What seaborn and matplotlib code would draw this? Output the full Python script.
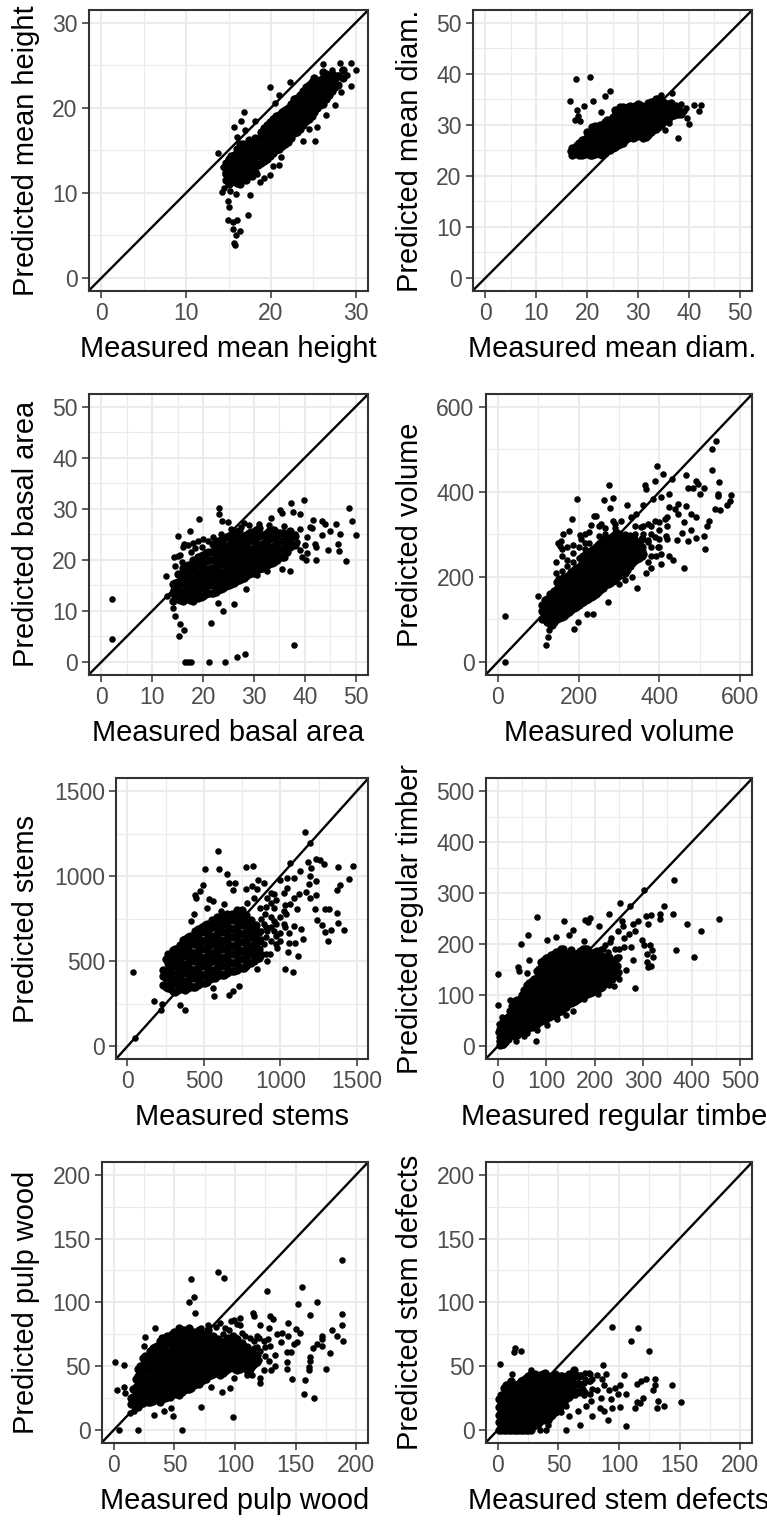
import matplotlib
matplotlib.use("Agg")
import matplotlib.pyplot as plt
import matplotlib.ticker as mtick
import pandas as pd
import seaborn as sns

# values: dense clouds as {measured: [predicted, ...]}, stray points as pairs
height_cloud = {
    15: [11, 12, 13, 14], 15.7: [11.5, 12.5, 13.5, 14.5], 16.4: [11, 12, 13, 14, 15, 15.7],
    17.1: [11.5, 12.5, 13.5, 14.5, 15.5], 17.8: [12, 13, 14, 15, 16], 18.5: [13.3, 14.3, 15.3, 16.3],
    19.2: [13.8, 14.8, 15.8, 16.8, 17.6], 19.9: [14.3, 15.3, 16.3, 17.3, 18.3], 20.6: [15, 16, 17, 18, 19],
    21.3: [15.5, 16.5, 17.5, 18.5, 19.5], 22: [16, 17, 18, 19, 20], 22.7: [17, 18, 19, 20, 21],
    23.4: [17.5, 18.5, 19.5, 20.5, 21.5], 24.1: [18.5, 19.5, 20.5, 21.5, 22.5], 24.8: [19, 20, 21, 22, 23],
    25.5: [20, 21, 22, 23], 26.2: [20.5, 21.5, 22.5, 23.5, 24.2], 26.9: [21.5, 22.5, 23.5], 27.6: [22.5, 23.5],
}
height_fill = {
    14.7: [11.5, 12.5, 13.5], 15.35: [11.3, 12.3, 13.3, 14.3], 16.05: [11.2, 12.2, 13.2, 14.2, 15.2],
    16.75: [11.7, 12.7, 13.7, 14.7, 15.7], 17.45: [12.2, 13.2, 14.2, 15.2, 16.2], 18.15: [12.5, 13.5, 14.5, 15.5, 16.5],
    18.85: [13.5, 14.5, 15.5, 16.5, 17.2], 19.55: [14, 15, 16, 17, 18], 20.25: [14.7, 15.7, 16.7, 17.7, 18.7],
    20.95: [15.2, 16.2, 17.2, 18.2, 19.2], 21.65: [15.7, 16.7, 17.7, 18.7, 19.7], 22.35: [16.5, 17.5, 18.5, 19.5, 20.5],
    23.05: [17.2, 18.2, 19.2, 20.2, 21.2], 23.75: [18, 19, 20, 21, 22], 24.45: [18.7, 19.7, 20.7, 21.7, 22.7],
    25.15: [19.5, 20.5, 21.5, 22.5, 23.5], 25.85: [20.3, 21.3, 22.3, 23.3], 26.55: [21, 22, 23, 24],
    27.25: [22, 23, 24], 27.95: [22.7, 23.7], 28.5: [23.5, 24.5],
}
height_stray = [(13.8, 14.7), (16.8, 19.5), (16.5, 18.5), (15.6, 17.7), (16, 16.6), (18.1, 18.4), (17, 17.4),
                (19.9, 22.4), (21, 21.5), (22.3, 23), (20.5, 20.6), (14.4, 13), (14.6, 12.2), (14.2, 10.1),
                (14.5, 10.6), (15.2, 10.2), (15.9, 9.9), (14.9, 9.1), (15, 8.3), (17.5, 9.7), (17.3, 7.4),
                (14.9, 6.8), (16, 6.8), (15.5, 6.6), (15.5, 5.7), (16.4, 5.5), (15.9, 5), (15.6, 4.1), (15.8, 3.9),
                (18.7, 11.3), (19.2, 11.8), (19.9, 12.1), (21, 13.3), (20.3, 13.2), (21.2, 14.2), (23.8, 16.1),
                (25.2, 16.1), (25.5, 17.8), (26.5, 19.2), (27.6, 20.3), (28.3, 21.9), (29.5, 22.6), (30, 24.4),
                (29.4, 25.3), (28.2, 25.3), (26.2, 25.2), (29, 23.8), (28.4, 24.5), (27.2, 24.5), (27.8, 23.8),
                (18, 12.6), (18.4, 12.2), (24.5, 17.5)]

diam_cloud = {
    17: [24, 25.5], 18: [24.5, 26], 19: [24, 25.5, 27], 20: [24.5, 26, 27.5, 28.5], 21: [24, 25.5, 27, 28.5, 29.5],
    22: [24.5, 26, 27.5, 29], 23: [24, 25.5, 27, 28.5, 30], 24: [25, 26.5, 28, 29.5, 31],
    25: [25.5, 27, 28.5, 30, 31.5], 26: [26, 27.5, 29, 30.5, 32, 33], 27: [26.5, 28, 29.5, 31, 32.5, 33.5],
    28: [27.5, 29, 30.5, 32, 33.5], 29: [27.5, 29, 30.5, 32, 33.5], 30: [28, 29.5, 31, 32.5, 34],
    31: [27.5, 29, 30.5, 32, 33.5], 32: [28, 29.5, 31, 32.5, 34.3], 33: [29, 30.5, 32, 33.5, 34.5],
    34: [29.5, 31, 32.5, 34, 35], 35: [30.5, 32, 33.5, 34.5], 36: [31, 32.5, 34], 37: [32, 33.5], 38: [33],
}
diam_fill = {
    17.5: [24.3, 25.5], 18.5: [24, 25.2, 26.4], 19.5: [24.2, 25.7, 27.2], 20.5: [24, 25.5, 27, 28.2],
    21.5: [24.2, 25.7, 27.2, 28.7, 29.7], 22.5: [24.2, 25.7, 27.2, 28.7, 30], 23.5: [24.5, 26, 27.5, 29, 30.5],
    24.5: [25, 26.5, 28, 29.5, 31], 25.5: [25.7, 27.2, 28.7, 30.2, 31.7, 33], 26.5: [26.2, 27.7, 29.2, 30.7, 32.2, 33.5],
    27.5: [27, 28.5, 30, 31.5, 33], 28.5: [27.7, 29.2, 30.7, 32.2, 33.7], 29.5: [27.7, 29.2, 30.7, 32.2, 33.7],
    30.5: [27.8, 29.3, 30.8, 32.3, 33.8], 31.5: [27.7, 29.2, 30.7, 32.2, 33.7], 32.5: [28.5, 30, 31.5, 33, 34.5],
    33.5: [29.2, 30.7, 32.2, 33.7, 35], 34.5: [30, 31.5, 33, 34.5], 35.5: [31, 32.5, 34], 36.5: [31.7, 33.2, 34.3],
    37.5: [32.5, 33.7], 38.4: [32.2],
}
diam_stray = [(17.9, 38.9), (20.5, 39.3), (16.6, 34.7), (19.4, 33.7), (21.2, 34.6), (23.5, 35.7), (24.6, 36.6),
              (22.8, 32.5), (18, 32.9), (18.2, 31.8), (17.7, 31), (18.7, 30.8), (37.9, 27.5), (35.3, 28.9),
              (40.1, 30.1), (39.6, 31.3), (42.4, 33.9), (42.1, 32.7), (41, 33.8), (39.5, 33.3), (37.8, 32),
              (36.8, 36.3), (34.5, 35.8), (39.1, 32.7), (38.5, 34), (36.2, 30.3), (16.6, 24.8)]

basal_cloud = {
    14: [12, 13.6, 15.2], 15: [12.5, 14.1, 15.7, 17.3], 16: [12, 13.6, 15.2, 16.8, 18.4],
    17: [12.5, 14.1, 15.7, 17.3, 18.9], 18: [12, 13.6, 15.2, 16.8, 18.4, 20],
    19: [12.5, 14.1, 15.7, 17.3, 18.9, 20.5], 20: [13, 14.6, 16.2, 17.8, 19.4, 21],
    21: [13.5, 15.1, 16.7, 18.3, 19.9, 21.5], 22: [13.5, 15.1, 16.7, 18.3, 19.9, 21.5, 23.1],
    23: [14, 15.6, 17.2, 18.8, 20.4, 22, 23.6], 24: [14.5, 16.1, 17.7, 19.3, 20.9, 22.5, 24.1],
    25: [15, 16.6, 18.2, 19.8, 21.4, 23, 24.6], 26: [15.5, 17.1, 18.7, 20.3, 21.9, 23.5, 25.2],
    27: [16, 17.6, 19.2, 20.8, 22.4, 24, 25.6], 28: [16.5, 18.1, 19.7, 21.3, 22.9, 24.5],
    29: [17.2, 18.8, 20.4, 22, 23.6, 25.2], 30: [17.5, 19.1, 20.7, 22.3, 23.9, 25.5],
    31: [18.2, 19.8, 21.4, 23, 24.6, 26.2], 32: [18.5, 20.1, 21.7, 23.3, 24.9],
    33: [19.2, 20.8, 22.4, 24, 25.6], 34: [19.5, 21.1, 22.7, 24.3, 25.9], 35: [20.5, 22.1, 23.7, 25.3],
    36: [20.5, 22.1, 23.7, 25.3], 37: [22.5, 24.1, 25.7], 38: [23, 24.6],
}
basal_fill = {
    14.5: [12.4, 14, 15.5], 15.5: [12.2, 13.8, 15.4, 17], 16.5: [12.3, 13.9, 15.5, 17.1, 18.7],
    17.5: [12.2, 13.8, 15.4, 17, 18.6], 18.5: [12.8, 14.4, 16, 17.6, 19.2],
    19.5: [12.8, 14.4, 16, 17.6, 19.2, 20.8], 20.5: [13.3, 14.9, 16.5, 18.1, 19.7, 21.3],
    21.5: [13.6, 15.2, 16.8, 18.4, 20, 21.6], 22.5: [13.8, 15.4, 17, 18.6, 20.2, 21.8, 23.4],
    23.5: [14.3, 15.9, 17.5, 19.1, 20.7, 22.3, 23.9], 24.5: [14.8, 16.4, 18, 19.6, 21.2, 22.8, 24.4],
    25.5: [15.3, 16.9, 18.5, 20.1, 21.7, 23.3, 24.9], 26.5: [15.8, 17.4, 19, 20.6, 22.2, 23.8, 25.4],
    27.5: [16.3, 17.9, 19.5, 21.1, 22.7, 24.3], 28.5: [16.9, 18.5, 20.1, 21.7, 23.3, 24.9],
    29.5: [17.4, 19, 20.6, 22.2, 23.8, 25.4], 30.5: [17.9, 19.5, 21.1, 22.7, 24.3, 25.9],
    31.5: [18.4, 20, 21.6, 23.2, 24.8], 32.5: [18.9, 20.5, 22.1, 23.7, 25.3],
    33.5: [19.4, 21, 22.6, 24.2, 25.8], 34.5: [20, 21.6, 23.2, 24.8], 35.5: [20.5, 22.1, 23.7, 25.3],
    36.5: [21.5, 23.1, 24.7], 37.5: [23, 24.6],
}
basal_stray = [(2, 12.4), (2, 4.5), (16.4, 0), (17, 0), (17.6, 0), (21.2, 0), (24.4, 0), (26.6, 1), (28.2, 1.6),
               (37.9, 3.4), (21.6, 7.6), (15.3, 5.1), (16.2, 6.3), (15.4, 7.4), (14.4, 9), (14, 10.5), (23.9, 10),
               (26.1, 11.3), (28.5, 14.2), (23, 11.6), (12.8, 16.9), (15, 24.7), (17.5, 25.6), (19.2, 28.1),
               (23.1, 30.2), (23.2, 29), (23.7, 27.7), (24.9, 27.5), (39.9, 31.8), (37.2, 31.2), (37.7, 29.3),
               (39.1, 29), (35.1, 29.7), (35.6, 29.2), (33.4, 28.2), (28, 27.2), (48.8, 30.1), (49.3, 27.6),
               (50, 24.8), (48.2, 19.7), (46.7, 21.7), (46.6, 23.2), (47, 25.1), (46.1, 27), (44.5, 22), (42.3, 19.9),
               (40.2, 19.9), (40.4, 21.3), (37, 17.8), (43.3, 24.9), (42.1, 23.2), (41.7, 27.9), (43.4, 27.6),
               (45, 25.7), (44, 27.1), (41.5, 26.2), (40.4, 24.5), (39.4, 20.6), (38.1, 25), (35.5, 18.3),
               (32.6, 17.8), (30.6, 17), (13, 13), (41, 26.5), (39, 26), (42.2, 22.5), (40, 23), (14, 14), (15.5, 21),
               (16, 22.6), (17, 23), (18, 23.4), (20, 24), (22, 24.5), (19, 23.7), (39, 22), (38.5, 23.5),
               (14.5, 18.8), (14.2, 20.5), (15, 20.7), (15.8, 19.5), (16.2, 23.2), (17.6, 21.5), (18.4, 22.3),
               (19.7, 22.6), (21, 23.6), (23.5, 25), (25.5, 26), (27.5, 26.5), (29, 26.8), (31, 27.1), (33, 26.8), (36, 26.6)]

volume_cloud = {
    110: [102, 120, 135], 122: [95, 113, 131, 149], 134: [88, 106, 124, 142, 160], 146: [100, 118, 136, 154, 172, 188],
    158: [106, 124, 142, 160, 178, 196], 170: [112, 130, 148, 166, 184, 200], 182: [122, 140, 158, 176, 194, 212],
    194: [130, 148, 166, 184, 202, 222], 206: [138, 156, 174, 192, 210, 228, 245], 218: [146, 164, 182, 200, 218, 236, 254],
    230: [152, 170, 188, 206, 224, 242, 262], 242: [160, 178, 196, 214, 232, 250, 270],
    254: [168, 186, 204, 222, 240, 258, 280], 266: [180, 198, 216, 234, 252, 270, 288],
    278: [186, 204, 222, 240, 258, 276, 292], 290: [196, 214, 232, 250, 268, 286, 300],
    302: [204, 222, 240, 258, 276, 294], 314: [208, 226, 244, 262, 280, 298], 326: [226, 244, 262, 280, 296],
    338: [238, 256, 274, 290], 350: [244, 262, 280],
}
volume_fill = {
    116: [100, 115, 130, 145], 128: [90, 108, 126, 144, 160], 140: [94, 112, 130, 148, 166],
    152: [103, 121, 139, 157, 175, 195], 164: [109, 127, 145, 163, 181, 200], 176: [117, 135, 153, 171, 189, 205],
    188: [126, 144, 162, 180, 198, 216], 200: [134, 152, 170, 188, 206, 224], 212: [142, 160, 178, 196, 214, 232, 250],
    224: [149, 167, 185, 203, 221, 239, 258], 236: [156, 174, 192, 210, 228, 246, 266],
    248: [164, 182, 200, 218, 236, 254, 275], 260: [174, 192, 210, 228, 246, 264, 284],
    272: [183, 201, 219, 237, 255, 273, 290], 284: [191, 209, 227, 245, 263, 281, 296],
    296: [200, 218, 236, 254, 272, 290, 304], 308: [206, 224, 242, 260, 278, 296], 320: [217, 235, 253, 271, 289],
    332: [232, 250, 268, 286], 344: [241, 259, 277], 356: [250, 270, 288],
}
volume_stray = [(17, 108), (17, 0), (120, 40), (123, 59), (126, 76), (189, 78), (199, 93), (99, 154), (195, 383),
                (183, 336), (175, 308), (161, 300), (156, 284), (149, 280), (153, 272), (203, 298), (205, 289),
                (275, 417), (263, 381), (286, 386), (278, 363), (239, 344), (244, 344), (231, 323), (394, 460),
                (408, 441), (389, 426), (364, 415), (368, 406), (430, 431), (424, 396), (467, 439), (383, 382),
                (403, 387), (540, 520), (530, 501), (529, 452), (548, 423), (546, 395), (546, 389), (577, 392),
                (574, 379), (567, 370), (537, 360), (549, 358), (491, 426), (496, 418), (483, 410), (510, 410),
                (500, 395), (472, 409), (467, 366), (446, 371), (479, 348), (491, 340), (522, 331), (518, 319),
                (510, 296), (512, 265), (491, 291), (471, 284), (479, 311), (462, 328), (456, 303), (444, 286),
                (462, 222), (434, 239), (425, 250), (403, 230), (380, 222), (368, 209), (345, 175), (332, 200),
                (315, 192), (301, 183), (273, 142), (235, 112), (220, 112), (417, 297), (404, 254), (446, 348),
                (425, 364), (438, 360), (413, 336), (389, 332), (371, 325), (355, 317), (342, 348), (330, 340),
                (320, 369), (359, 369), (305, 332), (284, 332), (255, 325), (371, 286), (388, 293), (396, 270),
                (363, 254), (346, 270), (371, 235), (145, 210), (145, 235), (160, 215), (160, 250), (160, 265),
                (171, 225), (171, 240), (171, 270), (185, 235), (185, 255), (185, 275), (201, 245), (201, 270),
                (215, 265), (215, 280), (215, 300), (225, 280), (225, 305), (250, 295), (250, 320), (265, 300),
                (265, 315), (290, 315), (290, 325), (340, 300), (340, 320), (360, 300), (360, 320), (360, 260),
                (380, 250), (380, 270), (380, 300), (380, 320), (400, 270), (400, 290), (400, 310), (400, 330),
                (420, 290), (420, 320), (420, 340), (372, 282), (392, 248)]

stems_cloud = {
    250: [350, 400, 450, 510], 282: [335, 385, 435, 485, 535], 314: [320, 370, 420, 470, 520, 570],
    346: [345, 395, 445, 495, 545, 595], 378: [330, 380, 430, 480, 530, 580, 630], 410: [355, 405, 455, 505, 555, 605, 650],
    442: [350, 400, 450, 500, 550, 600, 650, 680], 474: [375, 425, 475, 525, 575, 625, 675],
    506: [370, 420, 470, 520, 570, 620, 670, 710], 538: [395, 445, 495, 545, 595, 645, 695],
    570: [400, 450, 500, 550, 600, 650, 700, 740], 602: [425, 475, 525, 575, 625, 675, 725],
    634: [420, 470, 520, 570, 620, 670, 720, 760], 666: [445, 495, 545, 595, 645, 695, 745],
    698: [440, 490, 540, 590, 640, 690, 740, 770], 730: [465, 515, 565, 615, 665, 715, 760],
    762: [460, 510, 560, 610, 660, 710, 750], 794: [490, 540, 590, 640, 690, 730], 826: [500, 550, 600, 650, 700],
    858: [520, 570, 620, 670],
}
stems_fill = {
    234: [360, 410, 450], 266: [340, 390, 440, 490, 540], 298: [325, 375, 425, 475, 525, 565],
    330: [330, 380, 430, 480, 530, 580], 362: [335, 385, 435, 485, 535, 585, 625], 394: [340, 390, 440, 490, 540, 590, 640],
    426: [350, 400, 450, 500, 550, 600, 650], 458: [360, 410, 460, 510, 560, 610, 660, 690],
    490: [370, 420, 470, 520, 570, 620, 670, 700], 522: [380, 430, 480, 530, 580, 630, 680, 720],
    554: [400, 450, 500, 550, 600, 650, 700, 740], 586: [410, 460, 510, 560, 610, 660, 710, 760],
    618: [420, 470, 520, 570, 620, 670, 720, 770], 650: [430, 480, 530, 580, 630, 680, 730, 780],
    682: [440, 490, 540, 590, 640, 690, 740, 780], 714: [450, 500, 550, 600, 650, 700, 750, 800],
    746: [460, 510, 560, 610, 660, 710, 760, 800], 778: [470, 520, 570, 620, 670, 720, 770],
    810: [490, 540, 590, 640, 690, 740], 842: [510, 560, 610, 660, 710],
}
stems_stray = [(35, 435), (50, 47), (176, 268), (220, 213), (226, 248), (341, 242), (376, 211), (565, 293), (665, 303),
               (689, 322), (730, 353), (559, 340), (1033, 455), (1080, 439), (1117, 529), (1048, 555), (1093, 609),
               (1146, 633), (1137, 687), (1054, 609), (1000, 619), (1087, 707), (1109, 805), (1163, 1260), (1196, 1195),
               (593, 1146), (507, 1041), (596, 1039), (654, 1010), (778, 1051), (822, 1057), (1061, 1078), (1178, 1084),
               (1200, 1049), (1233, 1098), (1261, 1094), (1287, 1074), (1374, 1051), (1478, 1057), (1452, 984),
               (1387, 949), (1370, 916), (1130, 1033), (1196, 1000), (1235, 973), (1185, 953), (1170, 908), (1235, 889),
               (1196, 873), (1226, 805), (1293, 809), (1315, 805), (1370, 785), (1380, 727), (1417, 682), (1330, 682),
               (1293, 674), (1309, 619), (1272, 711), (1239, 742), (493, 945), (474, 912), (441, 887), (446, 869),
               (535, 863), (559, 853), (630, 838), (665, 961), (702, 957), (689, 916), (772, 922), (813, 941), (854, 980),
               (848, 922), (891, 961), (1000, 980), (1043, 990), (1087, 990), (1043, 931), (957, 893), (913, 873),
               (1022, 902), (1087, 873), (1065, 834), (1120, 893), (435, 775), (413, 736), (522, 814), (609, 795),
               (783, 844), (826, 873), (870, 814), (957, 814), (1022, 795), (957, 736), (1022, 717), (891, 717),
               (913, 678), (1000, 668), (1054, 668), (978, 580), (935, 541), (848, 453), (913, 502), (900, 780),
               (940, 760), (1000, 760), (1040, 780), (960, 680), (890, 600), (880, 540), (874, 530), (874, 630),
               (874, 680), (874, 750), (906, 540), (906, 640), (906, 700), (906, 820), (940, 620), (940, 700),
               (940, 840), (940, 900), (970, 600), (970, 650), (970, 720), (970, 860), (1030, 700), (1030, 830)]

timber_cloud = {
    5: [3, 18, 33], 15: [8, 23, 38, 52], 25: [25, 40, 55, 70], 35: [20, 35, 50, 65, 80], 45: [27, 42, 57, 72, 88],
    55: [32, 47, 62, 77, 92, 110], 65: [37, 52, 67, 82, 97, 112, 124], 75: [42, 57, 72, 87, 102, 117, 132],
    85: [47, 62, 77, 92, 107, 122, 137, 152], 95: [52, 67, 82, 97, 112, 127, 142, 157, 168],
    105: [57, 72, 87, 102, 117, 132, 147, 162, 175], 115: [62, 77, 92, 107, 122, 137, 152, 167, 180],
    125: [67, 82, 97, 112, 127, 142, 157, 172, 185], 135: [72, 87, 102, 117, 132, 147, 162, 177, 190],
    145: [82, 97, 112, 127, 142, 157, 172], 155: [87, 102, 117, 132, 147, 162, 177],
    165: [92, 107, 122, 137, 152, 167, 182], 175: [100, 115, 130, 145, 160, 175, 190],
    185: [102, 117, 132, 147, 162, 177, 190], 195: [107, 122, 137, 152, 167, 182], 205: [112, 127, 142, 157, 172, 187],
    215: [117, 132, 147, 162, 177], 225: [127, 142, 157, 172], 235: [132, 147, 162], 245: [142, 157, 172],
}
timber_fill = {
    10: [5, 20, 35, 50], 20: [15, 30, 45, 58], 30: [22, 37, 52, 67, 78], 40: [23, 38, 53, 68, 83, 90],
    50: [29, 44, 59, 74, 89, 100], 60: [34, 49, 64, 79, 94, 109, 120], 70: [39, 54, 69, 84, 99, 114, 128],
    80: [44, 59, 74, 89, 104, 119, 134, 148], 90: [49, 64, 79, 94, 109, 124, 139, 154, 165],
    100: [54, 69, 84, 99, 114, 129, 144, 159, 172], 110: [59, 74, 89, 104, 119, 134, 149, 164, 178],
    120: [64, 79, 94, 109, 124, 139, 154, 169, 184], 130: [69, 84, 99, 114, 129, 144, 159, 174, 190],
    140: [76, 91, 106, 121, 136, 151, 166, 181], 150: [84, 99, 114, 129, 144, 159, 174, 189],
    160: [89, 104, 119, 134, 149, 164, 179], 170: [96, 111, 126, 141, 156, 171, 186],
    180: [101, 116, 131, 146, 161, 176, 191], 190: [104, 119, 134, 149, 164, 179],
    200: [109, 124, 139, 154, 169, 184], 210: [114, 129, 144, 159, 174], 220: [122, 137, 152, 167],
    230: [129, 144, 159, 174], 240: [137, 152, 167],
}
timber_stray = [(1, 142), (0, 81), (81, 253), (62, 217), (47, 200), (41, 156), (43, 148), (64, 168), (61, 144), (101, 208),
                (137, 245), (119, 215), (156, 228), (147, 218), (180, 248), (191, 252), (186, 243), (208, 235), (178, 207),
                (229, 260), (253, 280), (272, 274), (302, 306), (363, 325), (343, 274), (334, 259), (334, 250), (361, 259),
                (390, 240), (419, 226), (456, 250), (367, 188), (404, 174), (315, 257), (306, 255), (289, 246), (278, 239),
                (309, 239), (256, 246), (258, 236), (297, 209), (301, 199), (314, 198), (318, 189), (307, 181), (320, 174),
                (308, 166), (315, 157), (309, 155), (282, 115), (278, 168), (265, 150), (251, 132), (240, 118), (230, 120),
                (275, 194), (261, 194), (271, 220), (261, 213), (282, 226), (247, 226), (233, 213), (78, 10), (37, 10),
                (54, 20), (0, 28), (2, 44), (26, 91), (9, 57), (123, 54), (156, 69), (140, 62), (178, 93), (206, 103),
                (102, 41), (81, 31), (3, 10), (10, 2), (6, 30), (12, 45), (36, 90), (45, 95), (60, 25), (70, 35),
                (212, 190), (222, 198), (232, 205), (250, 145), (250, 175), (250, 190), (242, 190), (228, 185), (218, 190)]

pulp_cloud = {
    14: [20, 25], 18: [22, 28, 34, 40], 22: [20, 26, 32, 38, 44, 50], 26: [23, 29, 35, 41, 47, 53, 58],
    30: [22, 28, 34, 40, 46, 52, 58, 62], 34: [25, 31, 37, 43, 49, 55, 61, 65], 38: [22, 28, 34, 40, 46, 52, 58, 64, 70],
    42: [25, 31, 37, 43, 49, 55, 61, 67, 72], 46: [26, 32, 38, 44, 50, 56, 62, 68, 74],
    50: [29, 35, 41, 47, 53, 59, 65, 71, 77], 54: [27, 33, 39, 45, 51, 57, 63, 69, 75, 80],
    58: [31, 37, 43, 49, 55, 61, 67, 73, 78], 62: [32, 38, 44, 50, 56, 62, 68, 74, 80],
    66: [35, 41, 47, 53, 59, 65, 71, 77], 70: [36, 42, 48, 54, 60, 66, 72, 78], 74: [39, 45, 51, 57, 63, 69, 75],
    78: [42, 48, 54, 60, 66, 72, 78], 82: [44, 50, 56, 62, 68, 74], 86: [47, 53, 59, 65, 71],
    90: [45, 51, 57, 63, 69], 94: [48, 54, 60, 66, 72], 98: [50, 56, 62, 68, 74],
    102: [47, 53, 59, 65, 71], 106: [50, 56, 62, 68], 110: [47, 53, 59, 65], 114: [50, 56, 62], 118: [53, 59],
}
pulp_fill = {
    16: [20, 26, 32], 20: [18, 24, 30, 36, 42, 48], 24: [21, 27, 33, 39, 45, 51, 56], 28: [22, 28, 34, 40, 46, 52, 58],
    32: [23, 29, 35, 41, 47, 53, 59, 64], 36: [24, 30, 36, 42, 48, 54, 60, 66], 40: [24, 30, 36, 42, 48, 54, 60, 66, 72],
    44: [26, 32, 38, 44, 50, 56, 62, 68, 74], 48: [27, 33, 39, 45, 51, 57, 63, 69, 75],
    52: [28, 34, 40, 46, 52, 58, 64, 70, 76], 56: [30, 36, 42, 48, 54, 60, 66, 72, 78],
    60: [32, 38, 44, 50, 56, 62, 68, 74], 64: [33, 39, 45, 51, 57, 63, 69, 75],
    68: [36, 42, 48, 54, 60, 66, 72], 72: [38, 44, 50, 56, 62, 68, 74], 76: [40, 46, 52, 58, 64, 70],
    80: [43, 49, 55, 61, 67, 73], 84: [45, 51, 57, 63, 69], 88: [43, 49, 55, 61, 67],
    92: [46, 52, 58, 64, 70], 96: [49, 55, 61, 67], 100: [48, 54, 60, 66, 72], 104: [48, 54, 60, 66],
    108: [50, 56, 62], 112: [48, 54, 60], 116: [52, 58],
}
pulp_stray = [(188, 133), (86, 124), (91, 119), (64, 118), (66, 104), (62, 100), (126, 109), (155, 112), (152, 99), (168, 100),
              (162, 90), (188, 91), (188, 82), (184, 74), (189, 70), (180, 78), (144, 84), (67, 92), (115, 92), (116, 89),
              (129, 89), (131, 87), (150, 79), (154, 76), (144, 74), (139, 76), (172, 74), (172, 71), (168, 67), (172, 66),
              (164, 64), (178, 60), (162, 57), (162, 54), (161, 49), (161, 47), (175, 48), (158, 39), (157, 28), (165, 25),
              (147, 40), (143, 53), (143, 48), (130, 47), (133, 50), (133, 59), (121, 37), (121, 41), (99, 41), (96, 33),
              (89, 30), (98, 10), (72, 18), (80, 34), (56, 0), (20, 0), (4, 0), (1, 53), (8, 51), (3, 31), (8, 34), (9, 29),
              (33, 12), (41, 15), (47, 17), (49, 11), (17, 15), (13, 13), (26, 73), (25, 66), (34, 80), (149, 67), (151, 69),
              (143, 61), (146, 61), (127, 71), (129, 66), (138, 69), (121, 82), (118, 74), (104, 88), (99, 86), (114, 43),
              (110, 43), (124, 47), (128, 54), (121, 62), (104, 82), (124, 70), (135, 75), (128, 80), (72, 80), (78, 82),
              (84, 81), (88, 84), (92, 80), (97, 85), (102, 83), (108, 74), (112, 72), (116, 70), (120, 72), (125, 65),
              (120, 55), (125, 58), (90, 75), (95, 78), (106, 76), (116, 64), (118, 65)]

defects_cloud = {
    1: [0, 6, 12, 18, 24], 5: [0, 3, 9, 15, 21, 27, 33], 9: [0, 6, 12, 18, 24, 30, 36], 13: [0, 3, 9, 15, 21, 27, 33],
    17: [0, 6, 12, 18, 24, 30, 36], 21: [0, 3, 9, 15, 21, 27, 33, 39], 25: [0, 6, 12, 18, 24, 30, 36, 42],
    29: [3, 9, 15, 21, 27, 33, 39], 33: [5, 11, 17, 23, 29, 35, 41], 37: [8, 14, 20, 26, 32, 38, 44],
    41: [8, 14, 20, 26, 32, 38, 42], 45: [12, 18, 24, 30, 36, 42], 49: [15, 21, 27, 33, 39], 53: [20, 26, 32, 38],
    57: [25, 31, 37, 42], 61: [28, 34, 40], 65: [30, 36, 42],
}
defects_fill = {
    3: [0, 3, 9, 15, 21, 27], 7: [0, 5, 11, 17, 23, 29, 35], 11: [0, 3, 9, 15, 21, 27, 33, 38], 15: [0, 5, 11, 17, 23, 29, 35],
    19: [0, 3, 9, 15, 21, 27, 33, 38], 23: [0, 5, 11, 17, 23, 29, 35, 41], 27: [0, 3, 9, 15, 21, 27, 33, 39, 44],
    31: [4, 10, 16, 22, 28, 34, 40, 44], 35: [7, 13, 19, 25, 31, 37, 43], 39: [9, 15, 21, 27, 33, 39, 45],
    43: [11, 17, 23, 29, 35, 41], 47: [14, 20, 26, 32, 38, 44], 51: [18, 24, 30, 36, 42], 55: [22, 28, 34, 40],
    59: [26, 32, 38, 44], 63: [30, 36, 42, 47], 67: [30, 36, 42],
}
defects_stray = [(94, 81), (116, 80), (110, 70), (125, 62), (13, 61), (14, 64), (19, 62), (2, 52), (12, 44), (27, 47), (87, 51),
                 (89, 44), (104, 43), (115, 36), (118, 38), (122, 40), (130, 40), (130, 35), (144, 35), (128, 31), (120, 25),
                 (115, 22), (117, 21), (113, 17), (132, 23), (131, 17), (137, 19), (151, 22), (106, 3), (101, 18), (94, 17),
                 (91, 8), (78, 11), (68, 4), (56, 0), (106, 28), (101, 35), (97, 33), (99, 28), (93, 24), (88, 15), (84, 17),
                 (59, 11), (44, 10), (40, 0), (35, 0), (41, 4), (92, 31), (88, 35), (86, 40), (82, 43), (75, 45), (69, 43),
                 (63, 46), (60, 45), (53, 43), (85, 25), (77, 23), (73, 19), (66, 15), (78, 32), (71, 37), (64, 27), (56, 19),
                 (52, 14), (49, 25), (53, 32), (60, 36), (82, 31), (71, 27), (60, 27), (66, 36), (75, 38), (70, 32), (78, 40),
                 (72, 30), (72, 40), (72, 45), (76, 28), (76, 38), (76, 44)]

# (name, cloud, fill, stray, upper tick, major step)
panels = [
    ("mean height", height_cloud, height_fill, height_stray, 30, 10),
    ("mean diam.", diam_cloud, diam_fill, diam_stray, 50, 10),
    ("basal area", basal_cloud, basal_fill, basal_stray, 50, 10),
    ("volume", volume_cloud, volume_fill, volume_stray, 600, 200),
    ("stems", stems_cloud, stems_fill, stems_stray, 1500, 500),
    ("regular timber", timber_cloud, timber_fill, timber_stray, 500, 100),
    ("pulp wood", pulp_cloud, pulp_fill, pulp_stray, 200, 50),
    ("stem defects", defects_cloud, defects_fill, defects_stray, 200, 50),
]
# panel boxes in pixels: left, right, top, bottom
boxes = [
    (88.7, 368.3, 10, 290.7), (472.7, 752.3, 10, 290.7),
    (88.7, 368.3, 394, 674.7), (485.7, 752.3, 394, 674.7),
    (116, 368.3, 778.3, 1059), (485.7, 752.3, 778.3, 1059),
    (101.7, 368.3, 1162, 1442.7), (485.7, 752.3, 1162, 1442.7),
]

W, H = 767, 1522

sns.set_theme(style="whitegrid")
plt.rcParams["font.family"] = ["Liberation Sans", "DejaVu Sans"]

fig = plt.figure(figsize=(W / 100, H / 100), dpi=100, facecolor="white")

for i, ((name, cloud, fill, stray, top, step), (l, r, t, b)) in enumerate(zip(panels, boxes)):
    ax = fig.add_axes([l / W, 1 - b / H, (r - l) / W, (b - t) / H])
    rows = [(x, y) for c in (cloud, fill) for x, ys in c.items() for y in ys]
    core = pd.DataFrame(rows, columns=["measured", "predicted"])
    loose = pd.DataFrame(stray, columns=["measured", "predicted"])
    # the core points stand for many overlapping ones, so they are drawn a bit larger to close up
    sns.scatterplot(data=core, x="measured", y="predicted", ax=ax, color="black", s=36,
                    linewidth=0, alpha=1, legend=False, zorder=3)
    sns.scatterplot(data=loose, x="measured", y="predicted", ax=ax, color="black", s=22,
                    linewidth=0, alpha=1, legend=False, zorder=3)
    ax.axline((0, 0), slope=1, color="black", lw=1.7, zorder=4)

    pad = top * 0.05
    ax.set_xlim(-pad, top + pad)
    ax.set_ylim(-pad, top + pad)
    for axis in (ax.xaxis, ax.yaxis):
        axis.set_major_locator(mtick.MultipleLocator(step))
        axis.set_minor_locator(mtick.MultipleLocator(step / 2))
    ax.set_axisbelow(True)
    ax.grid(which="major", color="#EBEBEB", lw=1.5)
    ax.grid(which="minor", color="#EBEBEB", lw=0.8)
    ax.tick_params(which="major", length=5, width=1.1, color="#333333", labelcolor="#4D4D4D",
                   labelsize=16.5, left=True, bottom=True, pad=3)
    ax.tick_params(which="minor", length=0)
    for spine in ax.spines.values():
        spine.set_color("#333333")
        spine.set_linewidth(1.5)
        spine.set_zorder(5)

    ax.set_xlabel("Measured " + name, fontsize=20.9, color="black", va="center")
    ax.set_ylabel("Predicted " + name, fontsize=20.9, color="black", va="center")
    ax.xaxis.set_label_coords((l + r) / 2 / W, 1 - (b + 58) / H, transform=fig.transFigure)
    col_left = 0 if i % 2 == 0 else 384
    ax.yaxis.set_label_coords((col_left + 26.5) / W, 1 - (t + b) / 2 / H, transform=fig.transFigure)

fig.savefig("out.png", dpi=100)
